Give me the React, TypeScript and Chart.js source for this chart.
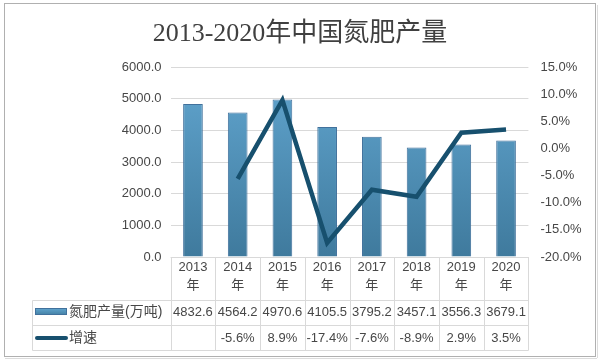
import React, { useEffect, useRef } from "react";
import { Chart, registerables } from "chart.js";
Chart.register(...registerables);

const TITLE = "2013-2020年中国氮肥产量";
const YEARS = ["2013", "2014", "2015", "2016", "2017", "2018", "2019", "2020"];
const OUTPUT = [4832.6, 4564.2, 4970.6, 4105.5, 3795.2, 3457.1, 3556.3, 3679.1];
const GROWTH: (number | null)[] = [null, -5.6, 8.9, -17.4, -7.6, -8.9, 2.9, 3.5];
const OUTPUT_LABEL = "氮肥产量(万吨)";
const GROWTH_LABEL = "增速";

const FONT = "'Liberation Sans', 'Noto Sans CJK SC', sans-serif";
const TEXT = "#474747";
const GRID = "#d9d9d9";
const LINE = "#17506e";

function barGradient(ctx: CanvasRenderingContext2D, top: number, bottom: number) {
  const g = ctx.createLinearGradient(0, top, 0, bottom);
  g.addColorStop(0, "#62a6d0");
  g.addColorStop(1, "#3f7a9d");
  return g;
}

export default function App() {
  const ref = useRef<HTMLCanvasElement | null>(null);
  useEffect(() => {
    const canvas = ref.current!;
    const decor = {
      id: "decor",
      afterDraw(chart: any) {
        const ctx: CanvasRenderingContext2D = chart.ctx;
        const x = chart.scales.x;
        const ca = chart.chartArea;
        const n = YEARS.length;
        const w = (ca.right - ca.left) / n;
        ctx.save();
        // outer border
        ctx.strokeStyle = "#b0b0b0";
        ctx.lineWidth = 1;
        ctx.strokeRect(4.5, 3.5, 591, 353);
        ctx.strokeStyle = "#dcdcdc";
        ctx.beginPath();
        ctx.moveTo(5, 358.5);
        ctx.lineTo(597, 358.5);
        ctx.moveTo(597.5, 5);
        ctx.lineTo(597.5, 358);
        ctx.stroke();
        // title
        ctx.fillStyle = "#404040";
        ctx.font = "26px 'Liberation Serif', 'Noto Sans CJK SC', serif";
        ctx.textAlign = "center";
        ctx.textBaseline = "middle";
        ctx.fillText(TITLE, 300, 34);
        // table
        const top = ca.bottom;
        const r1 = 300.5, r2 = 325.5, r3 = 350.5;
        const tl = 32.5;
        ctx.strokeStyle = GRID;
        ctx.lineWidth = 1;
        ctx.beginPath();
        ctx.moveTo(ca.left, top + 0.5);
        ctx.lineTo(ca.right, top + 0.5);
        for (const yy of [r1, r2, r3]) {
          ctx.moveTo(tl, yy);
          ctx.lineTo(ca.right, yy);
        }
        ctx.moveTo(tl, r1);
        ctx.lineTo(tl, r3);
        for (let k = 0; k <= n; k++) {
          const xx = Math.round(ca.left + k * w) + 0.5;
          ctx.moveTo(xx, top);
          ctx.lineTo(xx, r3);
        }
        ctx.stroke();
        ctx.fillStyle = TEXT;
        ctx.textAlign = "center";
        ctx.textBaseline = "middle";
        for (let i = 0; i < n; i++) {
          const cx = x.getPixelForValue(i);
          ctx.font = `13px ${FONT}`;
          ctx.fillText(YEARS[i], cx, 267);
          ctx.fillText("年", cx, 285);
          ctx.fillText(OUTPUT[i].toFixed(1), cx, 312);
          const g = GROWTH[i];
          if (g !== null) ctx.fillText(g.toFixed(1) + "%", cx, 338);
        }
        // legend keys
        ctx.fillStyle = barGradient(ctx, 308, 316);
        ctx.fillRect(35, 308, 32, 7);
        ctx.strokeStyle = "#41719c";
        ctx.strokeRect(35.5, 308.5, 31, 6);
        ctx.strokeStyle = LINE;
        ctx.lineWidth = 4;
        ctx.lineCap = "round";
        ctx.beginPath();
        ctx.moveTo(37, 338);
        ctx.lineTo(66, 338);
        ctx.stroke();
        ctx.fillStyle = TEXT;
        ctx.textAlign = "left";
        ctx.font = `14px ${FONT}`;
        ctx.fillText(OUTPUT_LABEL, 69, 312);
        ctx.fillText(GROWTH_LABEL, 69, 338);
        ctx.restore();
      },
    };
    const chart = new Chart(canvas, {
      type: "bar",
      data: {
        labels: YEARS,
        datasets: [
          {
            type: "line",
            label: GROWTH_LABEL,
            data: GROWTH,
            yAxisID: "y2",
            borderColor: LINE,
            borderWidth: 4.5,
            pointRadius: 0,
            tension: 0,
            order: 0,
          } as any,
          {
            type: "bar",
            label: OUTPUT_LABEL,
            data: OUTPUT,
            yAxisID: "y",
            backgroundColor: (c: any) => {
              const ca = c.chart.chartArea;
              if (!ca) return "#4f8fb8";
              return barGradient(c.chart.ctx, ca.top, ca.bottom);
            },
            borderColor: "#41719c",
            borderWidth: 1,
            barPercentage: 0.44,
            categoryPercentage: 1,
            order: 1,
          },
        ],
      },
      options: {
        animation: false,
        responsive: true,
        maintainAspectRatio: false,
        layout: { padding: { left: 0, right: 0, top: 67, bottom: 105 } },
        plugins: { legend: { display: false }, title: { display: false }, tooltip: { enabled: false } },
        scales: {
          x: { display: false },
          y: {
            position: "left",
            min: 0,
            max: 6000,
            afterFit: (s: any) => { s.width = 170.6; },
            ticks: {
              stepSize: 1000,
              padding: 9,
              color: TEXT,
              font: { family: FONT, size: 13 },
              callback: (v: any) => Number(v).toFixed(1),
            },
            grid: { color: GRID, drawTicks: false },
            border: { display: false },
          },
          y2: {
            position: "right",
            min: -20,
            max: 15,
            afterFit: (s: any) => { s.width = 70.6; },
            ticks: {
              stepSize: 5,
              padding: 12,
              color: TEXT,
              font: { family: FONT, size: 13 },
              callback: (v: any) => Number(v).toFixed(1) + "%",
            },
            grid: { display: false, drawTicks: false },
            border: { display: false },
          },
        },
      },
      plugins: [decor],
    });
    return () => chart.destroy();
  }, []);
  return (
    <div style={{ position: "fixed", left: 0, top: 0, width: 599, height: 362, background: "#fff" }}>
      <canvas ref={ref} />
    </div>
  );
}
